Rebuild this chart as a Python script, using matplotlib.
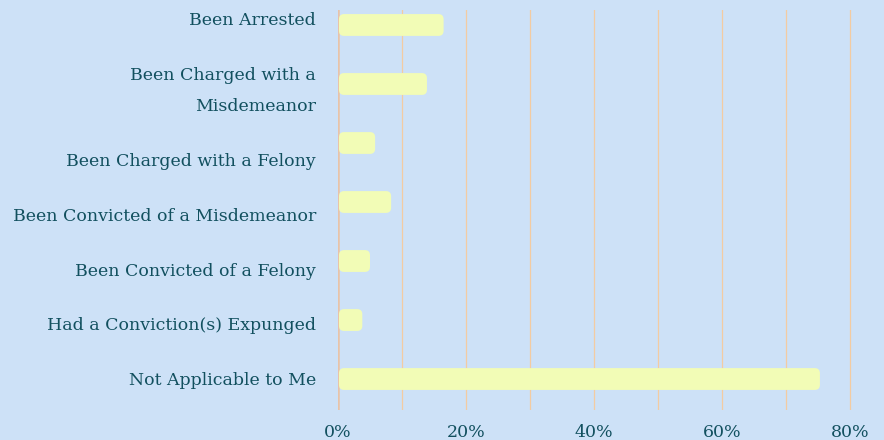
import matplotlib

matplotlib.use("Agg")
import matplotlib.pyplot as plt
import matplotlib.transforms as mtransforms
from matplotlib.patches import FancyBboxPatch

categories = [
    "Been Arrested",
    "Been Charged with a\nMisdemeanor",
    "Been Charged with a Felony",
    "Been Convicted of a Misdemeanor",
    "Been Convicted of a Felony",
    "Had a Conviction(s) Expunged",
    "Not Applicable to Me",
]
values = [16.5, 13.9, 5.8, 8.3, 5.0, 3.8, 75.3]
xticks = [0, 20, 40, 60, 80]

# label column is laid out independently of the bars (pixels, + = down)
label_shift_px = [-4, 7, 19, 14, 10, 5, 1]

BG = "#cde1f7"
BAR = "#f2fcb6"
GRID = "#f3cba2"
TEXT = "#12505f"

plt.rcParams["font.family"] = ["DejaVu Serif"]

fig = plt.figure(figsize=(8.84, 4.40), dpi=100, facecolor=BG)
ax = fig.add_axes([338 / 884, 30 / 440, 546 / 884, 400 / 440])
ax.set_facecolor(BG)

ax.set_xlim(0, 546 / 6.4)
ax.set_ylim(6.525, -0.254)

# vertical grid every 10%
for gx in range(10, 90, 10):
    ax.axvline(gx, color=GRID, linewidth=0.9, zorder=1)
ax.axvline(0, color="#e8c3a8", linewidth=1.8, zorder=1)

bar_h = 0.37
bars = ax.barh(range(len(values)), values, height=bar_h, color="none")
for rect in bars:
    x, y = rect.get_x(), rect.get_y()
    w, h = rect.get_width(), rect.get_height()
    patch = FancyBboxPatch(
        (x + 0.15, y), w - 0.15, h,
        boxstyle="round,pad=0,rounding_size=0.8",
        mutation_aspect=6.4 / 59,
        facecolor=BAR, edgecolor="none", zorder=2,
    )
    ax.add_patch(patch)

ax.set_yticks([])
blend = mtransforms.blended_transform_factory(fig.transFigure, ax.transData)
for i, (label, shift) in enumerate(zip(categories, label_shift_px)):
    tr = mtransforms.offset_copy(blend, fig=fig, y=-shift * 0.72, units="points")
    ax.text(316 / 884, i, label, transform=tr, ha="right", va="center",
            fontsize=12.5, color=TEXT, linespacing=2.15)

ax.set_xticks(xticks)
ax.set_xticklabels([f"{t}%" for t in xticks], fontsize=12.5, color=TEXT)
ax.tick_params(axis="both", length=0)
ax.tick_params(axis="x", pad=10)
for s in ax.spines.values():
    s.set_visible(False)

fig.savefig("out.png", dpi=100, facecolor=BG)
